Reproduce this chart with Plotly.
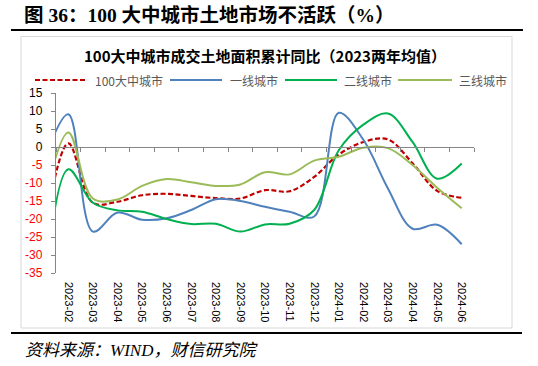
import plotly.graph_objects as go

# ---------------- data ----------------
months = ["2023-01", "2023-02", "2023-03", "2023-04", "2023-05", "2023-06", "2023-07",
          "2023-08", "2023-09", "2023-10", "2023-11", "2023-12", "2024-01", "2024-02",
          "2024-03", "2024-04", "2024-05", "2024-06"]
series_names = ["100大中城市", "一线城市", "二线城市", "三线城市"]
city100 = [-25.0, 1.0, -15.5, -15.2, -13.4, -13.0, -13.6, -14.2, -14.3, -12.0, -12.3,
           -8.3, -2.1, 1.4, 2.1, -4.5, -12.2, -14.1]
tier1 = [-4.0, 9.1, -23.5, -18.2, -20.2, -19.8, -17.5, -14.5, -15.0, -16.6, -18.0,
         -19.3, 9.5, 2.0, -11.5, -22.7, -21.6, -27.0]
tier2 = [-42.0, -6.2, -15.5, -17.6, -18.0, -20.0, -21.4, -21.3, -23.5, -21.5, -21.3,
         -17.5, -0.9, 6.2, 9.3, 1.4, -8.8, -4.6]
tier3 = [-16.0, 4.0, -14.3, -14.6, -10.8, -8.9, -9.8, -10.8, -10.4, -7.0, -7.6,
         -3.8, -2.7, -0.2, -0.3, -5.0, -11.3, -17.0]
y_ticks = [15, 10, 5, 0, -5, -10, -15, -20, -25, -30, -35]

main_title = "图 36：100 大中城市土地市场不活跃（%）"
chart_title = "100大中城市成交土地面积累计同比（2023两年均值）"
source_text = "资料来源：WIND，财信研究院"

# ---------------- styles ----------------
colors = ["#C00000", "#4F81BD", "#00B050", "#9BBB59"]
dashes = ["5px,2.5px", "solid", "solid", "solid"]
widths = [2.2, 2, 2, 2]
W, H = 538, 366
L, R, T, B = 56, 474, 93, 273
axis_gray = "#868686"


def px(x):
    return (x - L) / (R - L)


def py(y):
    return (B - y) / (B - T)


fig = go.Figure()
for name, vals, c, d, w in zip(series_names, [city100, tier1, tier2, tier3], colors, dashes, widths):
    fig.add_trace(go.Scatter(x=months, y=vals, name=name, mode="lines",
                             line=dict(color=c, width=w, dash=d, shape="spline", smoothing=1),
                             showlegend=False, hoverinfo="skip"))

# empty trace to register the zero-line axis
fig.add_trace(go.Scatter(x=[None], y=[None], xaxis="x2", showlegend=False, hoverinfo="skip"))

neg_color = "#FF0000"
ticktext = [str(v) if v >= 0 else f"<span style='color:{neg_color}'>{v}</span>" for v in y_ticks]

zero_pos = (0 - (-35)) / (15 - (-35))

fig.update_layout(
    width=W, height=H,
    margin=dict(l=L, r=W - R, t=T, b=H - B, pad=0),
    paper_bgcolor="white", plot_bgcolor="white",
    showlegend=False,
    xaxis=dict(type="category", categoryorder="array", categoryarray=months,
               range=[0.5, len(months) - 0.5], showline=False, showgrid=False, zeroline=False,
               ticks="", tickangle=90, ticklabelstandoff=8,
               tickfont=dict(family="Liberation Sans, Arial", size=11, color="#000000")),
    xaxis2=dict(overlaying="x", anchor="free", position=zero_pos,
                range=[0.5, len(months) - 0.5], tick0=0.5, dtick=1,
                ticks="outside", ticklen=4, tickcolor=axis_gray, tickwidth=1,
                showline=True, linecolor=axis_gray, linewidth=1.3,
                showticklabels=False, showgrid=False, zeroline=False),
    yaxis=dict(range=[-35, 15], tickvals=y_ticks, ticktext=ticktext,
               ticks="outside", ticklen=4, tickcolor=axis_gray,
               showline=True, linecolor=axis_gray, linewidth=1.3,
               showgrid=False, zeroline=False, ticklabelstandoff=6,
               tickfont=dict(family="Liberation Sans, Arial", size=12, color="#000000")),
)

shapes = []
# heavy rules
shapes.append(dict(type="line", xref="paper", yref="paper", x0=px(11), x1=px(523), y0=py(30), y1=py(30),
                   line=dict(color="#000000", width=2.2)))
shapes.append(dict(type="line", xref="paper", yref="paper", x0=px(11), x1=px(522), y0=py(333), y1=py(333),
                   line=dict(color="#000000", width=2.2)))
# chart frame
shapes.append(dict(type="rect", xref="paper", yref="paper", x0=px(21), x1=px(512), y0=py(36.5), y1=py(328),
                   line=dict(color="#D9D9D9", width=1), fillcolor="rgba(0,0,0,0)", layer="below"))

annotations = []
annotations.append(dict(text=f"<b>{main_title}</b>", xref="paper", yref="paper", x=px(22), y=py(15),
                        xanchor="left", yanchor="middle", showarrow=False,
                        font=dict(family="Liberation Serif, Noto Sans CJK SC", size=19.5, color="#000000")))
annotations.append(dict(text=f"<b>{chart_title}</b>", xref="paper", yref="paper", x=px(265), y=py(55),
                        xanchor="center", yanchor="middle", showarrow=False,
                        font=dict(family="Noto Sans CJK SC", size=15, color="#000000")))
annotations.append(dict(text=f"<i>{source_text}</i>", xref="paper", yref="paper", x=px(23), y=py(350),
                        xanchor="left", yanchor="middle", showarrow=False,
                        font=dict(family="Liberation Serif, Noto Sans CJK SC", size=17, color="#000000")))

# legend (manual)
leg_y = 80
leg_lines = [(35, 87), (170, 222), (285, 337), (398, 452)]
leg_text_x = [93, 228, 342, 457]
for (x0, x1), tx, name, c, d, w in zip(leg_lines, leg_text_x, series_names, colors, dashes, widths):
    shapes.append(dict(type="line", xref="paper", yref="paper", x0=px(x0), x1=px(x1), y0=py(leg_y), y1=py(leg_y),
                       line=dict(color=c, width=w, dash=d)))
    annotations.append(dict(text=name, xref="paper", yref="paper", x=px(tx), y=py(leg_y),
                            xanchor="left", yanchor="middle", showarrow=False,
                            font=dict(family="Noto Sans CJK SC", size=12, color="#595959")))

fig.update_layout(shapes=shapes, annotations=annotations)
fig.write_html("out.html", config={"displayModeBar": False},
               post_script="document.body.style.margin='0px';document.body.style.overflow='hidden';")
